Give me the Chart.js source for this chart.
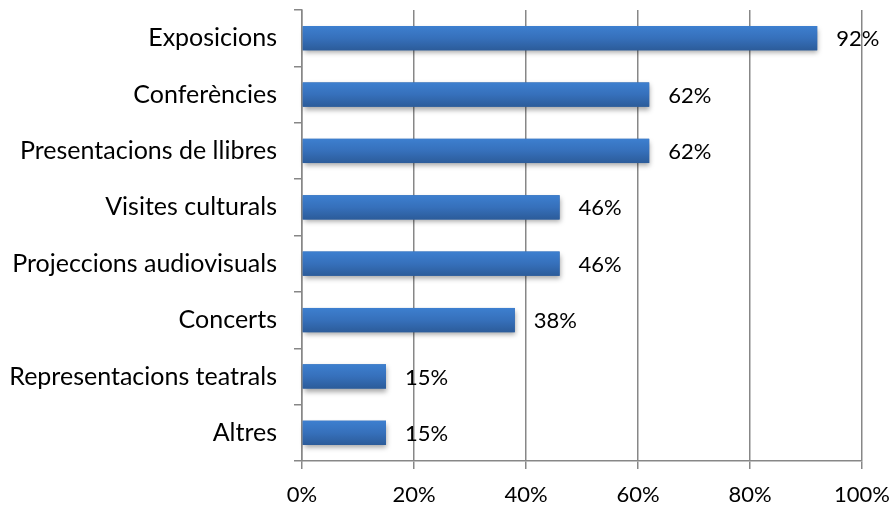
<!DOCTYPE html>
<html>
<head>
<meta charset="utf-8">
<script src="https://cdn.jsdelivr.net/npm/chart.js@4"></script>
<style>
  html, body { margin: 0; padding: 0; background: #fff; }
  #wrap { width: 895px; height: 508px; }
</style>
</head>
<body>
<div id="wrap"><canvas id="myChart"></canvas></div>
<script>
var categories = ['Exposicions', 'Conferències', 'Presentacions de llibres', 'Visites culturals',
                  'Projeccions audiovisuals', 'Concerts', 'Representacions teatrals', 'Altres'];
var values = [92, 62, 62, 46, 46, 38, 15, 15];
var xTicks = [0, 20, 40, 60, 80, 100];

var fontFamily = 'Lato, "Open Sans", sans-serif';
var gridColor = '#878787';

function barFill(context) {
    var chart = context.chart;
    var yScale = chart.scales && chart.scales.y;
    if (!chart.chartArea || !yScale || context.dataIndex === undefined) return '#3670bb';
    var cy = yScale.getPixelForValue(context.dataIndex);
    if (!isFinite(cy)) return '#3670bb';
    var h = 12;
    var g = chart.ctx.createLinearGradient(0, cy - h, 0, cy + h);
    g.addColorStop(0, '#3d7fcf');
    g.addColorStop(0.5, '#3670bb');
    g.addColorStop(1, '#2c5c9a');
    return g;
}

// soft shadow under the bars + value labels
var barExtras = {
    id: 'barExtras',
    beforeDatasetsDraw: function(chart) {
        var ctx = chart.ctx;
        var meta = chart.getDatasetMeta(0);
        ctx.save();
        meta.data.forEach(function(bar) {
            ctx.shadowColor = 'rgba(0,0,0,0.35)';
            ctx.shadowBlur = 5;
            ctx.shadowOffsetY = 3;
            ctx.shadowOffsetX = 1;
            ctx.fillStyle = '#2f62a3';
            ctx.fillRect(bar.base, bar.y - bar.height / 2, bar.x - bar.base, bar.height);
        });
        ctx.restore();
    },
    afterDatasetsDraw: function(chart) {
        var ctx = chart.ctx;
        var meta = chart.getDatasetMeta(0);
        ctx.save();
        ctx.font = '22px ' + fontFamily;
        ctx.fillStyle = '#000';
        ctx.textBaseline = 'middle';
        ctx.textAlign = 'left';
        meta.data.forEach(function(bar, i) {
            ctx.fillText(values[i] + '%', bar.x + 19, bar.y + 1);
        });
        ctx.restore();
    }
};

var ctx = document.getElementById('myChart').getContext('2d');

var graphData = {
    type: 'bar',
    data: {
        labels: categories,
        datasets: [{
            data: values,
            backgroundColor: barFill,
            borderWidth: 0,
            barPercentage: 0.43,
            categoryPercentage: 1
        }]
    },
    options: {
        indexAxis: 'y',
        responsive: true,
        maintainAspectRatio: false,
        animation: false,
        layout: { padding: { top: 10, right: 33, left: 0, bottom: 0 } },
        plugins: {
            legend: { display: false },
            tooltip: { enabled: false }
        },
        scales: {
            x: {
                min: 0,
                max: 100,
                afterBuildTicks: function(axis) {
                    axis.ticks = xTicks.map(function(v) { return { value: v }; });
                },
                afterFit: function(axis) {
                    axis.height = 47;
                    axis.paddingLeft = 0;
                    axis.paddingRight = 0;
                },
                ticks: {
                    color: '#000',
                    font: { family: fontFamily, size: 22 },
                    padding: 13,
                    maxRotation: 0,
                    callback: function(v) { return v + '%'; }
                },
                grid: { color: gridColor, lineWidth: 1.5, tickLength: 8 },
                border: { color: gridColor, width: 1.5 }
            },
            y: {
                afterFit: function(axis) {
                    axis.width = 302;
                    axis.paddingTop = 0;
                    axis.paddingBottom = 0;
                },
                ticks: {
                    color: '#000',
                    font: { family: fontFamily, size: 25 },
                    padding: 17
                },
                grid: { offset: true, drawOnChartArea: false, color: gridColor, lineWidth: 1.5, tickLength: 8 },
                border: { color: gridColor, width: 1.5 }
            }
        }
    },
    plugins: [barExtras]
};

var myChart = new Chart(ctx, graphData);
</script>
</body>
</html>
